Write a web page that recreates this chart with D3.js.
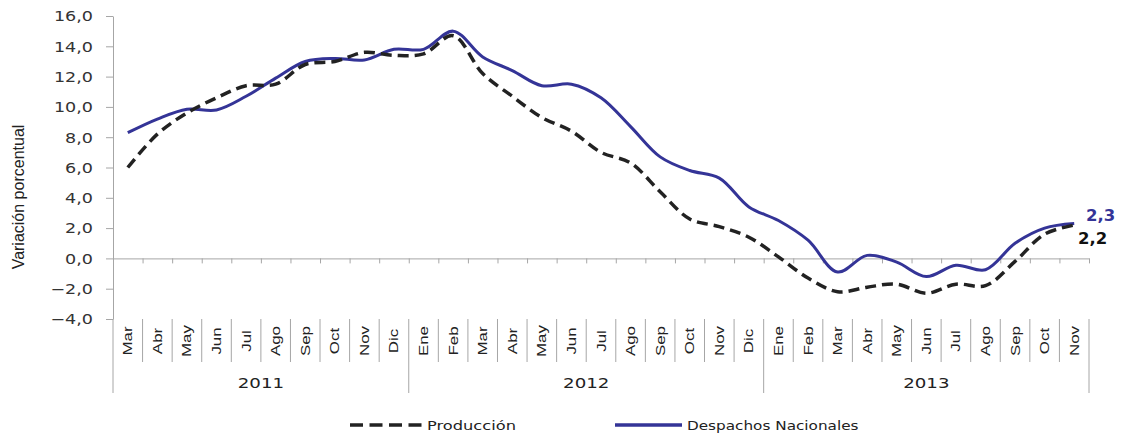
<!DOCTYPE html>
<html>
<head>
<meta charset="utf-8">
<script src="https://cdn.jsdelivr.net/npm/d3@7"></script>
<style>
  body { margin: 0; background: #fff; }
  svg { display: block; }
</style>
</head>
<body>
<div id="chart"></div>
<script>

var months = ["Mar","Abr","May","Jun","Jul","Ago","Sep","Oct","Nov","Dic",
              "Ene","Feb","Mar","Abr","May","Jun","Jul","Ago","Sep","Oct","Nov","Dic",
              "Ene","Feb","Mar","Abr","May","Jun","Jul","Ago","Sep","Oct","Nov"];
var years = [{label: "2011", from: 0, to: 10}, {label: "2012", from: 10, to: 22}, {label: "2013", from: 22, to: 33}];

var produccion = [6.0, 8.2, 9.6, 10.6, 11.4, 11.5, 12.8, 13.0, 13.6, 13.4,
                  13.5, 14.7, 12.2, 10.7, 9.3, 8.4, 7.0, 6.3, 4.4, 2.6, 2.1, 1.4,
                  0.1, -1.3, -2.2, -1.9, -1.7, -2.3, -1.7, -1.8, -0.2, 1.6, 2.2];
var despachos = [8.3, 9.2, 9.85, 9.8, 10.7, 11.9, 13.0, 13.2, 13.1, 13.8,
                 13.8, 15.0, 13.3, 12.4, 11.4, 11.5, 10.6, 8.7, 6.7, 5.8, 5.3, 3.4,
                 2.5, 1.2, -0.9, 0.2, -0.25, -1.2, -0.45, -0.75, 1.0, 2.0, 2.3];
var yTicks = [-4, -2, 0, 2, 4, 6, 8, 10, 12, 14, 16];

var W = 1124, H = 433;
var plotL = 113, plotR = 1089, plotT = 16, plotB = 319;
var blue = "#343497", black = "#222", gray = "#a6a6a6";

var svg = d3.select("#chart").append("svg")
	.attr("width", W)
	.attr("height", H);

var x = d3.scaleBand().domain(d3.range(months.length)).range([plotL, plotR]).padding(0);
var xb = d3.scaleLinear().domain([0, months.length]).range([plotL, plotR]);
var y = d3.scaleLinear().domain([-4, 16]).range([plotB, plotT]);
var fmt = function(d) { return d3.format(".1f")(d).replace(".", ","); };

// y axis
var yAxis = svg.append("g")
	.attr("transform", "translate(" + plotL + ",0)")
	.call(d3.axisLeft(y).tickValues(yTicks).tickSize(7).tickSizeOuter(0).tickFormat(fmt));
yAxis.select(".domain").attr("stroke", gray);
yAxis.selectAll(".tick line").attr("stroke", gray);
yAxis.selectAll(".tick text")
	.attr("x", 0)
	.attr("dy", "0.36em")
	.attr("transform", "translate(-20,0) scale(1.3,1)")
	.attr("fill", "#333")
	.style("font-family", "DejaVu Sans")
	.style("font-size", "13.5px");

// horizontal axis at zero
var xAxis = svg.append("g")
	.attr("transform", "translate(0," + y(0) + ")")
	.call(d3.axisBottom(xb).tickValues(d3.range(1, months.length + 1)).tickSize(5).tickSizeOuter(0).tickFormat(""));
xAxis.select(".domain").attr("stroke", gray);
xAxis.selectAll(".tick line").attr("stroke", gray);

// category separators
var yearEdges = [0, 10, 22, 33];
svg.append("g").selectAll("line")
	.data(d3.range(0, months.length + 1))
	.enter().append("line")
	.attr("x1", function(d) { return xb(d); })
	.attr("x2", function(d) { return xb(d); })
	.attr("y1", plotB)
	.attr("y2", function(d) { return yearEdges.indexOf(d) >= 0 ? 393 : 362; })
	.attr("stroke", gray)
	.attr("stroke-width", 1);

// month labels
svg.append("g").selectAll("text")
	.data(months)
	.enter().append("text")
	.attr("transform", function(d, i) {
		return "translate(" + (x(i) + x.bandwidth() / 2 + 4.5) + ",341) rotate(-90) scale(1.3,1)";
	})
	.attr("text-anchor", "middle")
	.style("font-family", "Liberation Sans")
	.style("font-size", "13px")
	.attr("fill", "#222")
	.text(function(d) { return d; });

// year labels
svg.append("g").selectAll("text")
	.data(years)
	.enter().append("text")
	.attr("transform", function(d) {
		return "translate(" + ((xb(d.from) + xb(d.to)) / 2) + ",388) scale(1.3,1)";
	})
	.attr("text-anchor", "middle")
	.style("font-family", "DejaVu Sans")
	.style("font-size", "14px")
	.attr("fill", "#222")
	.text(function(d) { return d.label; });

// y title
svg.append("text")
	.attr("transform", "translate(24,197) rotate(-90)")
	.attr("text-anchor", "middle")
	.style("font-family", "Liberation Sans")
	.style("font-size", "16px")
	.attr("fill", "#222")
	.text("Variación porcentual");

// lines
var line = d3.line()
	.x(function(d, i) { return x(i) + x.bandwidth() / 2; })
	.y(function(d) { return y(d); })
	.curve(d3.curveCatmullRom.alpha(0.5));

svg.append("path")
	.datum(despachos)
	.attr("d", line)
	.attr("fill", "none")
	.attr("stroke", blue)
	.attr("stroke-width", 3);

svg.append("path")
	.datum(produccion)
	.attr("d", line)
	.attr("fill", "none")
	.attr("stroke", black)
	.attr("stroke-width", 3.5)
	.attr("stroke-dasharray", "11,6");

// end labels
var last = months.length - 1;
svg.append("text")
	.attr("transform", "translate(1086," + (y(despachos[last]) - 3) + ") scale(1.1,1)")
	.style("font-family", "DejaVu Sans").style("font-weight", "bold").style("font-size", "15px")
	.attr("fill", blue)
	.text(fmt(despachos[last]));
svg.append("text")
	.attr("transform", "translate(1078," + (y(produccion[last]) + 19) + ") scale(1.1,1)")
	.style("font-family", "DejaVu Sans").style("font-weight", "bold").style("font-size", "15px")
	.attr("fill", "#111")
	.text(fmt(produccion[last]));

// legend
var legend = svg.append("g");
legend.append("line")
	.attr("x1", 350).attr("x2", 422).attr("y1", 425).attr("y2", 425)
	.attr("stroke", black).attr("stroke-width", 3.5).attr("stroke-dasharray", "13,6.5");
legend.append("text")
	.attr("transform", "translate(427,429.5) scale(1.3,1)")
	.style("font-family", "DejaVu Sans").style("font-size", "12.5px")
	.attr("fill", "#222")
	.text("Producción");
legend.append("line")
	.attr("x1", 615).attr("x2", 682).attr("y1", 425).attr("y2", 425)
	.attr("stroke", blue).attr("stroke-width", 3.5);
legend.append("text")
	.attr("transform", "translate(687,429.5) scale(1.22,1)")
	.style("font-family", "DejaVu Sans").style("font-size", "12.5px")
	.attr("fill", "#222")
	.text("Despachos Nacionales");

</script>
</body>
</html>
